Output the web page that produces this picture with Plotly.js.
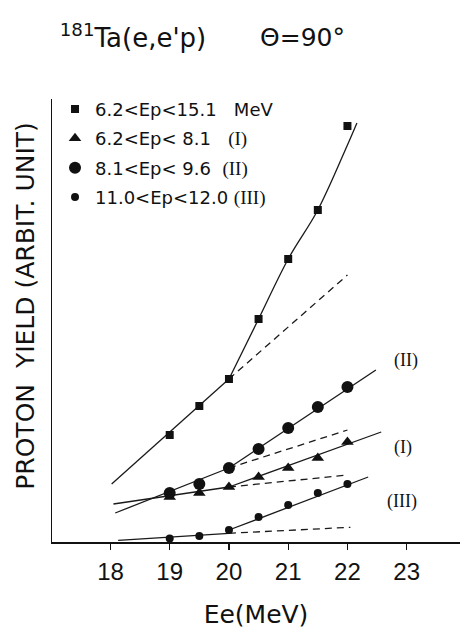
<!DOCTYPE html>
<html>
<head>
<meta charset="utf-8">
<script src="https://cdn.plot.ly/plotly-3.0.1.min.js"></script>
<style>html,body{margin:0;padding:0;background:#fff;}#chart{width:460px;height:629px;}</style>
</head>
<body>
<div id="chart"></div>
<script>
// Electron energy Ee (MeV)
const ee = [19, 19.5, 20, 20.5, 21, 21.5, 22];
// Proton yield (arbitrary units) for each Ep window
const yieldAll = [10.7, 13.6, 16.3, 22.3, 28.3, 33.2, 41.6];   // 6.2<Ep<15.1
const yieldI   = [4.5, 4.9, 5.5, 6.5, 7.4, 8.4, 10.0];         // 6.2<Ep<8.1  (I)
const yieldII  = [4.9, 5.8, 7.4, 9.3, 11.4, 13.5, 15.5];       // 8.1<Ep<9.6  (II)
const yieldIII = [0.35, 0.6, 1.2, 2.5, 3.7, 4.9, 5.8];         // 11.0<Ep<12.0 (III)

// Hand-drawn guide lines
const allLowX = [18.02, 20], allLowY = [5.8, 16.3];
const allHighX = [20, 20.5, 21, 21.5, 22, 22.16], allHighY = [16.3, 22.3, 28.3, 33.2, 39.7, 41.9];
const allDashX = [20, 22], allDashY = [16.3, 26.7];
const iiLowX = [18.08, 20], iiLowY = [2.9, 7.4];
const iiHighX = [20, 22.48], iiHighY = [7.4, 17.2];
const iiDashX = [20, 22], iiDashY = [7.4, 11.2];
const iLowX = [18.05, 20], iLowY = [3.8, 5.5];
const iHighX = [20, 22.57], iHighY = [5.5, 11.0];
const iDashX = [20, 22], iDashY = [5.5, 6.7];
const iiiLowX = [18.13, 20], iiiLowY = [0.17, 0.87];
const iiiHighX = [20, 22.35], iiiHighY = [1.2, 6.5];
const iiiDashX = [20, 22.05], iiiDashY = [0.87, 1.47];

const xTicks = [18, 19, 20, 21, 22, 23];
const serif = (t) => "<span style='font-family:Liberation Serif;font-size:19px'>" + t + "</span>";
const legendNames = [
  "6.2&lt;Ep&lt;15.1\u00a0\u00a0\u00a0MeV",
  "6.2&lt;Ep&lt;\u00a08.1\u00a0\u00a0\u00a0" + serif("(I)"),
  "8.1&lt;Ep&lt;\u00a09.6\u00a0\u00a0" + serif("(II)"),
  "11.0&lt;Ep&lt;12.0\u00a0" + serif("(III)")
];
const curveLabels = ["(II)", "(I)", "(III)"];
const curveLabelX = [22.99, 22.94, 22.92];
const curveLabelY = [18.2, 9.5, 4.1];

const LC = '#1a1a1a';
function solid(x, y, shape) {
  return {x: x, y: y, mode: 'lines', showlegend: false, hoverinfo: 'skip',
          line: {color: LC, width: 1.3, shape: shape || 'linear', smoothing: 1}};
}
function dashed(x, y) {
  return {x: x, y: y, mode: 'lines', showlegend: false, hoverinfo: 'skip',
          line: {color: LC, width: 1.3, dash: '7px,5px'}};
}
function pts(y, sym, size, name, grp) {
  return {x: ee, y: y, mode: 'markers', name: name, legendgroup: grp, cliponaxis: false,
          marker: {symbol: sym, size: size, color: '#111'}};
}

const data = [
  solid(allLowX, allLowY), solid(allHighX, allHighY, 'spline'), dashed(allDashX, allDashY),
  solid(iiLowX, iiLowY), solid(iiHighX, iiHighY), dashed(iiDashX, iiDashY),
  solid(iLowX, iLowY), solid(iHighX, iHighY), dashed(iDashX, iDashY),
  solid(iiiLowX, iiiLowY), solid(iiiHighX, iiiHighY), dashed(iiiDashX, iiiDashY),
  pts(yieldAll, 'square', 8, legendNames[0], 'a'),
  pts(yieldI, 'triangle-up', 11, legendNames[1], 'b'),
  pts(yieldII, 'circle', 12, legendNames[2], 'c'),
  pts(yieldIII, 'circle', 8, legendNames[3], 'd')
];

const annotations = curveLabels.map((t, i) => ({
  x: curveLabelX[i], y: curveLabelY[i], xref: 'x', yref: 'y', text: t, showarrow: false,
  font: {family: 'Liberation Serif', size: 18, color: '#111'}
}));
annotations.push({
  xref: 'paper', yref: 'paper', x: 0.505, y: 1.138, xanchor: 'left', yanchor: 'middle',
  text: 'Θ=90°', showarrow: false, font: {family: 'DejaVu Sans', size: 25, color: '#111'}
});
annotations.push({
  xref: 'paper', yref: 'paper', x: -0.064, y: 0.533, xanchor: 'center', yanchor: 'middle',
  textangle: -90, text: 'PROTON  YIELD (ARBIT. UNIT)', showarrow: false,
  font: {family: 'DejaVu Sans', size: 25, color: '#111'}
});

const layout = {
  width: 460, height: 629,
  margin: {l: 52, r: 0, t: 99, b: 87},
  paper_bgcolor: '#fff', plot_bgcolor: '#fff',
  font: {family: 'DejaVu Sans', color: '#111'},
  title: {text: "<sup>181</sup>Ta(e,e'p)", xref: 'container', yref: 'container',
          x: 0.13, xanchor: 'left', y: 0.94, yanchor: 'middle',
          font: {family: 'DejaVu Sans', size: 26, color: '#111'}},
  xaxis: {range: [17.013, 23.9], tickvals: xTicks, ticktext: xTicks.map(String),
          ticks: 'outside', ticklen: 6, tickwidth: 1.3, tickcolor: '#111',
          showline: true, linecolor: '#111', linewidth: 1.5, showgrid: false, zeroline: false,
          ticklabelstandoff: 2,
          tickfont: {family: 'Liberation Sans', size: 24, color: '#111'},
          title: {text: 'Ee(MeV)', standoff: 26, font: {family: 'DejaVu Sans', size: 25, color: '#111'}}},
  yaxis: {range: [0, 44.3], showticklabels: false, ticks: '', showgrid: false, zeroline: false,
          showline: true, linecolor: '#111', linewidth: 1.5},
  showlegend: true,
  legend: {x: 0.0074, xanchor: 'left', y: 1.0187, yanchor: 'top', bgcolor: 'rgba(0,0,0,0)',
           font: {family: 'DejaVu Sans', size: 18, color: '#111'}, tracegroupgap: 3,
           traceorder: 'grouped', itemwidth: 30},
  annotations: annotations
};

Plotly.newPlot('chart', data, layout, {staticPlot: true, displayModeBar: false});
</script>
</body>
</html>
